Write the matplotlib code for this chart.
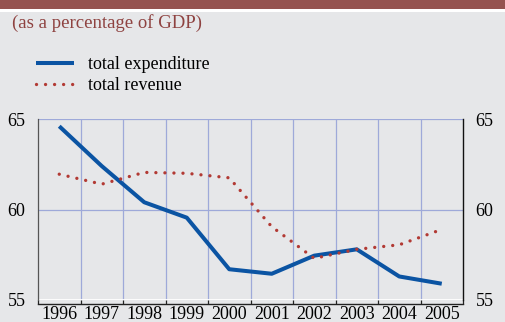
import matplotlib
matplotlib.use("Agg")
import matplotlib.pyplot as plt
import numpy as np

years = ["1996", "1997", "1998", "1999", "2000", "2001", "2002", "2003", "2004", "2005"]
expenditure = [64.6, 62.4, 60.4, 59.55, 56.7, 56.45, 57.45, 57.8, 56.3, 55.9]
revenue = [61.95, 61.4, 62.05, 62.0, 61.75, 59.05, 57.3, 57.8, 58.05, 58.9]

plt.rcParams['font.family'] = ['Liberation Serif', 'DejaVu Serif']

BG = '#e6e7e9'
BAND = '#955350'
BLUE = '#0b54a3'
RED = '#b23a34'
GRID = '#9ea9d9'

fig = plt.figure(figsize=(5.06, 3.22), dpi=100, facecolor=BG)

# header band and the white rule under it
fig.patches.append(plt.Rectangle((0, 1 - 9.5 / 322), 1, 9.5 / 322, transform=fig.transFigure,
                                 facecolor=BAND, edgecolor='none'))
fig.patches.append(plt.Rectangle((0, 1 - 11.5 / 322), 1, 2 / 322, transform=fig.transFigure,
                                 facecolor='white', edgecolor='none'))
fig.text(12 / 506, 1 - 23 / 322, "(as a percentage of GDP)", color='#8e4240',
         fontsize=13.5, va='center', ha='left')

ax = fig.add_axes([38 / 506, 22 / 322, 425 / 506, 181 / 322])
ax.set_facecolor(BG)

x = np.arange(len(years))
ax.plot(x, expenditure, color=BLUE, lw=2.9, solid_capstyle='butt',
        solid_joinstyle='round', label='total expenditure', zorder=3)
ax.plot(x, revenue, color=RED, lw=2.4, linestyle=(0, (0.01, 2.7)),
        dash_capstyle='round', label='total revenue', zorder=4)

ax.set_xlim(-0.5, len(years) - 0.5)
ax.set_ylim(55, 65)

# grid: horizontal at the y ticks, vertical at the year boundaries
for yv in [60, 65]:
    ax.axhline(yv, color=GRID, lw=0.9, zorder=1)
for b in np.arange(0.5, len(years) - 0.5):
    ax.axvline(b, color=GRID, lw=0.9, zorder=1)
ax.axhline(55, color='white', lw=2, zorder=2)

ax.set_yticks([55, 60, 65])
ax.set_xticks(x)
ax.set_xticklabels(years)
ax.set_xticks(np.arange(-0.5, len(years)), minor=True)
ax.tick_params(axis='x', which='major', length=0, pad=1, labelsize=13)
ax.tick_params(axis='x', which='minor', length=3, width=0.9, direction='in', color='#222222')
ax.tick_params(axis='y', length=0, labelsize=13, pad=9, labelleft=True, labelright=True)

ax.spines['top'].set_visible(False)
ax.spines['left'].set_color('#555555')
ax.spines['left'].set_linewidth(0.9)
ax.spines['right'].set_color('#111111')
ax.spines['right'].set_linewidth(1.0)
ax.spines['bottom'].set_position(('outward', 3))
ax.spines['bottom'].set_color('#222222')
ax.spines['bottom'].set_linewidth(1.0)

fig.legend(loc='upper left', bbox_to_anchor=(20 / 506, 1 - 40 / 322), frameon=False,
           fontsize=13, handlelength=2.1, handletextpad=0.75, labelspacing=0.2)

fig.savefig('out.png', dpi=100, facecolor=BG)
